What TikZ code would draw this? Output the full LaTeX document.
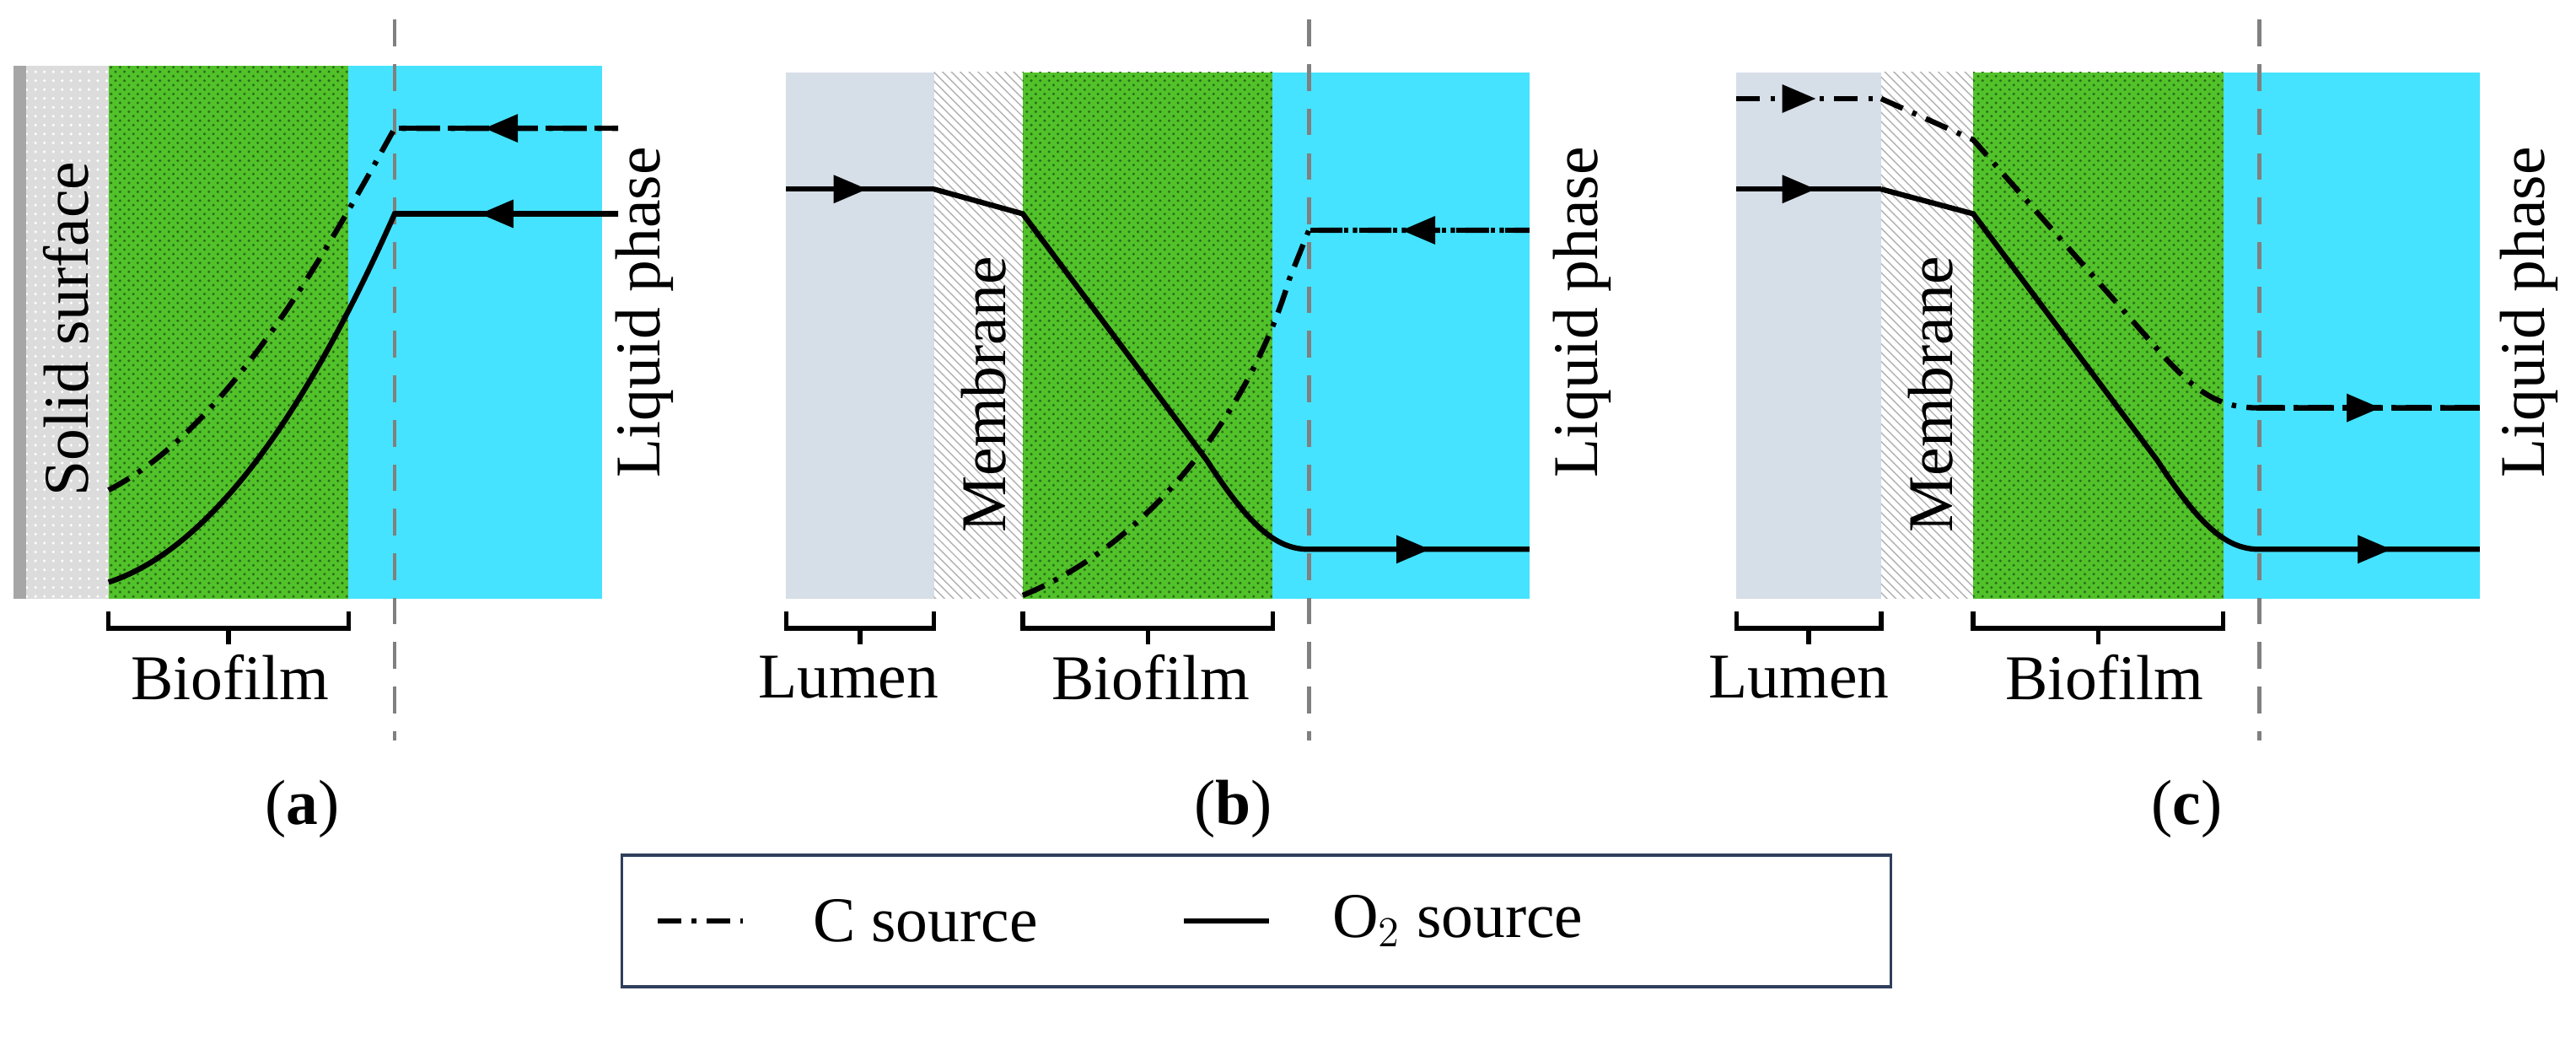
\documentclass[tikz,border=0pt]{standalone}
\usepackage{fontspec}
\setmainfont{Liberation Serif}
\usetikzlibrary{arrows.meta, patterns, decorations.markings}
\definecolor{biogreen}{HTML}{52C22A}
\definecolor{dotgreen}{HTML}{2A6E18}
\definecolor{liquid}{HTML}{45E3FF}
\definecolor{lumen}{HTML}{D6DEE8}
\definecolor{surfacegray}{HTML}{DCDCDC}
\definecolor{legendframe}{HTML}{2F3F5C}

\begin{document}
\begin{tikzpicture}[
                x=0.039cm, y=-0.039cm,
                biofilm/.style={fill=biogreen, postaction={pattern=crosshatch dots, pattern color=dotgreen}},
                liquidbox/.style={fill=liquid},
                lumenbox/.style={fill=lumen},
                membrane/.style={fill=white, postaction={pattern=north west lines, pattern color=gray!60}},
                border/.style={draw=gray, line width=1.4pt, dash pattern=on 9pt off 6pt},
                csource/.style={line width=1.8pt, dash pattern=on 8pt off 3.5pt on 1.5pt off 3.5pt},
                osource/.style={line width=1.8pt},
                flow/.style={postaction={decorate, decoration={markings,
                    mark=at position #1 with {\arrow{Triangle[length=4mm,width=3.2mm]}}}}},
                bracket/.style={line width=1.5pt},
                lbl/.style={font=\fontsize{21.5}{25}\selectfont},
                sidelbl/.style={font=\fontsize{21.5}{25}\selectfont, rotate=90}
            ]
                \useasboundingbox (0,0) rectangle (783.3,319.2);

                % (a) biofilm on a solid surface
                \fill[surfacegray, postaction={pattern=dots, pattern color=white}] (8,20) rectangle (33,182);
                \fill[gray!70] (4,20) rectangle (8,182);
                \fill[biofilm] (33,20) rectangle (106,182);
                \fill[liquidbox] (106,20) rectangle (183,182);
                \draw[border] (120,6) -- (120,225);
                \draw[csource] (33,149) .. controls (70,130) and (100,75) .. (120,39) -- (188,39);
                \draw[csource, flow=0.6] (188,39) -- (120,39);
                \draw[osource] (33,177) .. controls (70,165) and (100,110) .. (120,65) -- (188,65);
                \draw[osource, flow=0.62] (188,65) -- (120,65);
                \node[sidelbl] (solidlbl) at (20,100) {Solid surface};
                \node[sidelbl] (liqa) at (196,95) {Liquid phase};
                \draw[bracket] (33,186) -- (33,191) -- (106,191) -- (106,186) (69.5,191) -- (69.5,196);
                \node[lbl] (bioa) at (70,206) {Biofilm};
                \node[lbl] (capa) at (92,246) {(\textbf{a})};

                % (b) membrane-aerated biofilm, counter-diffusion
                \fill[lumenbox] (239,22) rectangle (284,182);
                \fill[membrane] (284,22) rectangle (311,182);
                \fill[biofilm] (311,22) rectangle (387,182);
                \fill[liquidbox] (387,22) rectangle (465,182);
                \draw[border] (398,6) -- (398,225);
                \draw[osource, flow=0.55] (239,57.5) -- (284,57.5);
                \draw[osource] (284,57.5) -- (311,65) -- (367,140) .. controls (380,160) and (388,167) .. (398,167) -- (465,167);
                \draw[osource, flow=0.55] (398,167) -- (465,167);
                \draw[csource] (311,181) .. controls (350,165) and (380,125) .. (392,85) -- (398,70) -- (465,70);
                \draw[csource, flow=0.58] (465,70) -- (398,70);
                \node[sidelbl] (memb) at (299,120) {Membrane};
                \node[sidelbl] (liqb) at (481,95) {Liquid phase};
                \draw[bracket] (239,186) -- (239,191) -- (284,191) -- (284,186) (261.5,191) -- (261.5,196);
                \draw[bracket] (311,186) -- (311,191) -- (387,191) -- (387,186) (349,191) -- (349,196);
                \node[lbl] (lumb) at (258,206) {Lumen};
                \node[lbl] (biob) at (350,206) {Biofilm};
                \node[lbl] (capb) at (375,246) {(\textbf{b})};

                % (c) membrane-aerated biofilm, co-diffusion
                \fill[lumenbox] (528,22) rectangle (572,182);
                \fill[membrane] (572,22) rectangle (600,182);
                \fill[biofilm] (600,22) rectangle (676,182);
                \fill[liquidbox] (676,22) rectangle (754,182);
                \draw[border] (687,6) -- (687,225);
                \draw[csource, flow=0.55] (528,30) -- (572,30);
                \draw[csource] (572,30) -- (600,42.5) -- (655,105) .. controls (668,120) and (675,124) .. (687,124) -- (754,124);
                \draw[csource, flow=0.55] (687,124) -- (754,124);
                \draw[osource, flow=0.55] (528,57.5) -- (572,57.5);
                \draw[osource] (572,57.5) -- (600,65) -- (656,140) .. controls (669,160) and (677,167) .. (687,167) -- (754,167);
                \draw[osource, flow=0.6] (687,167) -- (754,167);
                \node[sidelbl] (memc) at (587,120) {Membrane};
                \node[sidelbl] (liqc) at (769,95) {Liquid phase};
                \draw[bracket] (528,186) -- (528,191) -- (572,191) -- (572,186) (550,191) -- (550,196);
                \draw[bracket] (600,186) -- (600,191) -- (676,191) -- (676,186) (638,191) -- (638,196);
                \node[lbl] (lumc) at (547,206) {Lumen};
                \node[lbl] (bioc) at (640,206) {Biofilm};
                \node[lbl] (capc) at (665,246) {(\textbf{c})};

                % Legend
                \node[draw=legendframe, line width=1pt, minimum width=15.05cm, minimum height=1.56cm] (legend) at (382,280) {};
                \coordinate (cl1) at (200,280);
                \coordinate (cl2) at (226,280);
                \draw[csource] (cl1) -- (cl2);
                \node[lbl, anchor=west] (clbl) at (244,280) {C source};
                \coordinate (ol1) at (360,280);
                \coordinate (ol2) at (386,280);
                \draw[osource] (ol1) -- (ol2);
                \node[lbl, anchor=west] (olbl) at (402,280) {O$_2$ source};
            \end{tikzpicture}
\end{document}
